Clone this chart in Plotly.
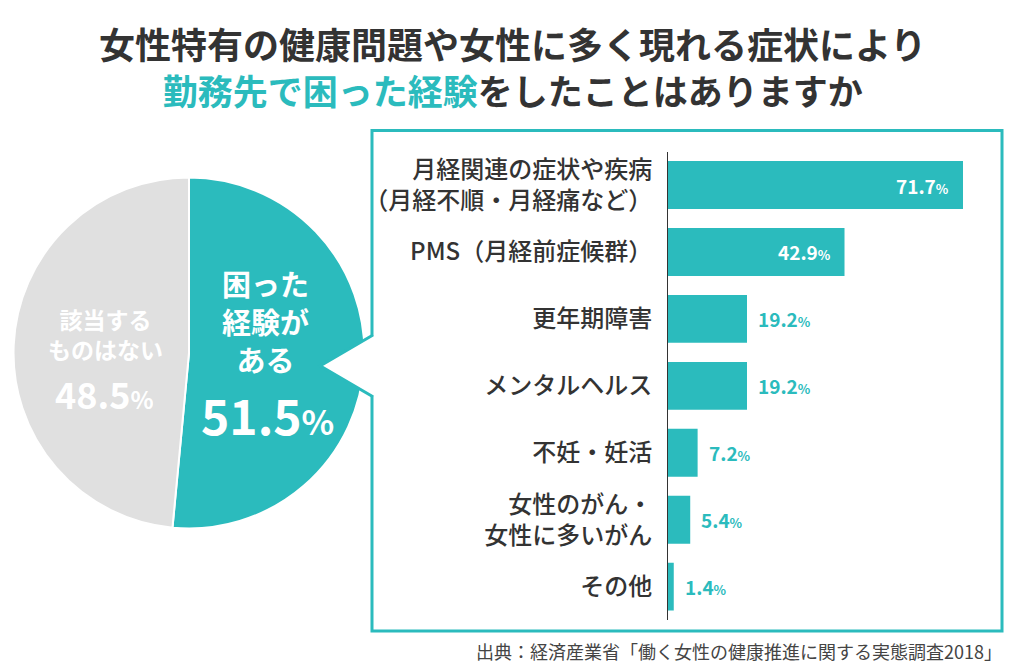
import plotly.graph_objects as go

# ---- data ----
pie_labels = ["困った経験がある", "該当するものはない"]
pie_values = [51.5, 48.5]

bar_categories = [
    "月経関連の症状や疾病<br>（月経不順・月経痛など）",
    "PMS（月経前症候群）",
    "更年期障害",
    "メンタルヘルス",
    "不妊・妊活",
    "女性のがん・<br>女性に多いがん",
    "その他",
]
bar_values = [71.7, 42.9, 19.2, 19.2, 7.2, 5.4, 1.4]

title_line1 = "女性特有の健康問題や女性に多く現れる症状により"
title_line2_hl = "勤務先で困った経験"
title_line2_rest = "をしたことはありますか"
source_text = "出典：経済産業省「働く女性の健康推進に関する実態調査2018」"

# ---- style ----
W, H = 1024, 672
TEAL = "#2BBBBD"
GRAY = "#E0E0E0"
DARK = "#333333"
FONT = "Noto Sans CJK JP"


def px(x):
    return x / W


def py(y):
    return 1 - y / H


fig = go.Figure()

# pie
fig.add_trace(go.Pie(
    labels=pie_labels, values=pie_values, sort=False, direction="clockwise",
    rotation=0, marker=dict(colors=[TEAL, GRAY], line=dict(color="white", width=2)),
    textinfo="none", hoverinfo="skip", showlegend=False,
    domain=dict(x=[px(13), px(365)], y=[py(528), py(176)]),
))

# bars
fig.add_trace(go.Bar(
    x=bar_values, y=bar_categories, orientation="h",
    marker=dict(color=TEAL, line=dict(width=0)),
    hoverinfo="skip", showlegend=False,
))

x_range_max = (995 - 668) / (295.0 / 71.7)

fig.update_layout(
    width=W, height=H, margin=dict(l=0, r=0, t=0, b=0),
    paper_bgcolor="white", plot_bgcolor="white",
    font=dict(family=FONT, color=DARK),
    bargap=0.285,
    xaxis=dict(domain=[px(668), px(995)], range=[0, x_range_max], visible=False,
               fixedrange=True),
    yaxis=dict(domain=[py(620), py(150)], autorange="reversed", showline=True,
               linecolor=DARK, linewidth=1, ticks="", showgrid=False,
               tickfont=dict(family=FONT, size=24, color=DARK, weight=500),
               ticklabelstandoff=10, fixedrange=True),
)

annotations = []
# title (two lines)
annotations.append(dict(
    x=0.5, y=py(64), xref="paper", yref="paper",
    text=(f"<span style='font-size:36px'>{title_line1}</span><br>"
          f"<span style='color:{TEAL}'>{title_line2_hl}</span>{title_line2_rest}"),
    showarrow=False, xanchor="center", yanchor="middle", align="center",
    font=dict(family=FONT, size=35, color=DARK, weight="bold")))

# value labels on bars
for cat, v in zip(bar_categories, bar_values):
    inside = v >= 30
    annotations.append(dict(
        x=v, y=cat, xref="x", yref="y",
        text=f"{v:.1f}<span style='font-size:13px'>%</span>",
        showarrow=False, xanchor="right" if inside else "left", yanchor="middle",
        xshift=-12 if inside else 9,
        font=dict(family=FONT, size=19, color="white" if inside else TEAL, weight="bold"),
    ))

# pie labels
annotations.append(dict(x=px(105), y=py(333), xref="paper", yref="paper",
                        text="該当する<br>ものはない", showarrow=False, height=62,
                        xanchor="center", yanchor="middle", align="center",
                        font=dict(family=FONT, size=23, color="white", weight="bold")))
annotations.append(dict(x=px(104), y=py(392), xref="paper", yref="paper", height=40,
                        text=f"{pie_values[1]:.1f}<span style='font-size:24px'>%</span>",
                        showarrow=False, xanchor="center", yanchor="middle",
                        font=dict(family=FONT, size=36, color="white", weight="bold")))
annotations.append(dict(x=px(265), y=py(320), xref="paper", yref="paper", height=112,
                        text="困った<br>経験が<br>ある", showarrow=False,
                        xanchor="center", yanchor="middle", align="center",
                        font=dict(family=FONT, size=29, color="white", weight="bold")))
annotations.append(dict(x=px(267), y=py(413), xref="paper", yref="paper", height=52,
                        text=f"{pie_values[0]:.1f}<span style='font-size:34px'>%</span>",
                        showarrow=False, xanchor="center", yanchor="middle",
                        font=dict(family=FONT, size=48, color="white", weight="bold")))

# source
annotations.append(dict(x=px(1004), y=py(651), xref="paper", yref="paper", text=source_text,
                        showarrow=False, xanchor="right", yanchor="middle",
                        font=dict(family=FONT, size=18, color="#444444")))

fig.update_layout(annotations=annotations)


def path(points, close=False):
    s = "M " + " L ".join(f"{px(x):.5f},{py(y):.5f}" for x, y in points)
    return s + (" Z" if close else "")


shapes = [
    # callout box with gap for pointer
    dict(type="path", xref="paper", yref="paper", layer="above",
         path=path([(372, 335), (372, 129), (1002, 129), (1002, 631), (372, 631), (372, 395)]),
         line=dict(color=TEAL, width=3), fillcolor="rgba(0,0,0,0)"),
    # pointer (white notch into pie)
    dict(type="path", xref="paper", yref="paper", layer="above",
         path=path([(373, 334), (320, 365), (373, 396)]),
         line=dict(color=TEAL, width=3), fillcolor="white"),
]
fig.update_layout(shapes=shapes)

fig.write_html(
    "out.html",
    config={"displayModeBar": False},
    post_script="document.body.style.margin='0';document.body.style.overflow='hidden';",
)
